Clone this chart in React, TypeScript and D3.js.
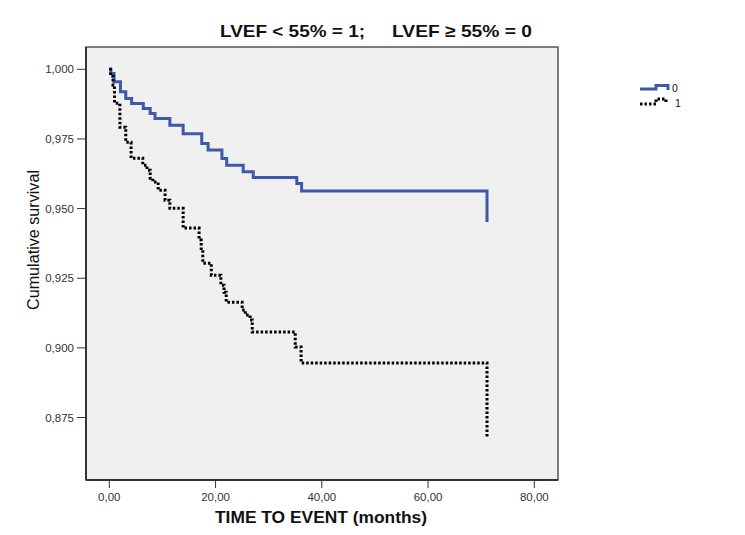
import React from "react";
import * as d3 from "d3";

const titleParts = ["LVEF < 55% = 1;", "LVEF \u2265 55% = 0"];
const xLabel = "TIME TO EVENT (months)";
const yLabel = "Cumulative survival";

const xTicks = [0, 20, 40, 60, 80];
const yTicks = [0.875, 0.9, 0.925, 0.95, 0.975, 1.0];

const group0Times = [0, 0.3, 0.9, 2.1, 3.1, 4.2, 6.4, 7.7, 8.6, 11.4, 13.9, 17.4, 18.6, 21.2, 22.1, 25.2, 27.1, 35.3, 36.2, 71.1];
const group0Surv = [1.0, 0.9985, 0.9955, 0.9919, 0.9895, 0.9877, 0.9859, 0.9841, 0.9823, 0.9799, 0.9769, 0.9734, 0.971, 0.968, 0.9656, 0.9632, 0.9612, 0.959, 0.9563, 0.9452];

const group1Times = [0, 0.23, 0.7, 0.98, 2.0, 3.1, 4.1, 6.3, 7.1, 7.7, 8.2, 9.2, 10.5, 11.4, 13.9, 16.9, 17.3, 17.6, 19.2, 21.0, 21.6, 22.0, 25.0, 25.6, 26.5, 26.9, 35.0, 36.1, 71.1];
const group1Surv = [1.0, 0.9975, 0.9943, 0.9878, 0.9792, 0.9738, 0.9681, 0.9656, 0.9638, 0.9609, 0.9595, 0.9566, 0.953, 0.9501, 0.943, 0.9387, 0.9351, 0.9304, 0.9261, 0.9225, 0.92, 0.9164, 0.9136, 0.9118, 0.91, 0.9057, 0.9003, 0.8946, 0.8676];

const legendLabels = ["0", "1"];

export default function App() {
  const W = 745, H = 535;
  const frame = { left: 86, right: 558, top: 47, bottom: 480 };
  const x = d3.scaleLinear().domain([0, 80]).range([109.3, 534.3]);
  const y = d3.scaleLinear().domain([0.875, 1.0]).range([417.5, 69.3]);
  const fmtY = (v: number) => d3.format(".3f")(v).replace(".", ",");
  const fmtX = (v: number) => d3.format(".2f")(v).replace(".", ",");

  const line = d3
    .line<[number, number]>()
    .x((d) => x(d[0]))
    .y((d) => y(d[1]))
    .curve(d3.curveStepAfter);

  const p0 = line(group0Times.map((t, i) => [t, group0Surv[i]] as [number, number])) || "";
  const p1 = line(group1Times.map((t, i) => [t, group1Surv[i]] as [number, number])) || "";

  const blue = "#3E58AC";
  const font = "Arial, 'Liberation Sans', sans-serif";

  return (
    <svg
      width={W}
      height={H}
      style={{ position: "absolute", left: 0, top: 0, background: "#fff" }}
      fontFamily={font}
    >
      <rect x={0} y={0} width={W} height={H} fill="#fff" />
      <text x={220} y={37} fontSize={17} fontWeight="bold" fill="#111" textLength={145} lengthAdjust="spacingAndGlyphs">
        {titleParts[0]}
      </text>
      <text x={392} y={37} fontSize={17} fontWeight="bold" fill="#111" textLength={140} lengthAdjust="spacingAndGlyphs">
        {titleParts[1]}
      </text>
      <rect
        x={frame.left}
        y={frame.top}
        width={frame.right - frame.left}
        height={frame.bottom - frame.top}
        fill="#F0F0F0"
        stroke="#555"
        strokeWidth={1.5}
      />
      <line x1={frame.left} x2={frame.left} y1={frame.top} y2={frame.bottom} stroke="#333" strokeWidth={2} />
      <line x1={frame.left} x2={frame.right} y1={frame.bottom} y2={frame.bottom} stroke="#333" strokeWidth={2} />
      {yTicks.map((v) => (
        <g key={"y" + v}>
          <line x1={77} x2={frame.left} y1={y(v)} y2={y(v)} stroke="#333" strokeWidth={1} />
          <text x={74} y={y(v) + 4} textAnchor="end" fontSize={11.5} fill="#333">
            {fmtY(v)}
          </text>
        </g>
      ))}
      {xTicks.map((v) => (
        <g key={"x" + v}>
          <line x1={x(v)} x2={x(v)} y1={frame.bottom} y2={frame.bottom + 8} stroke="#333" strokeWidth={1} />
          <text x={x(v)} y={501} textAnchor="middle" fontSize={11.5} fill="#333">
            {fmtX(v)}
          </text>
        </g>
      ))}
      <text x={215} y={523} fontSize={16} fontWeight="bold" fill="#111" textLength={212} lengthAdjust="spacingAndGlyphs">
        {xLabel}
      </text>
      <text
        transform={`translate(39,240) rotate(-90)`}
        x={-70}
        fontSize={16}
        fill="#111"
        textLength={140}
        lengthAdjust="spacingAndGlyphs"
      >
        {yLabel}
      </text>
      <path d={p0} fill="none" stroke={blue} strokeWidth={3} />
      <path d={p1} fill="none" stroke="#000" strokeWidth={3} strokeDasharray="2.5 2" />
      <g>
        <path d="M640,89 H656 V85.5 H668 V90" fill="none" stroke={blue} strokeWidth={3} />
        <text x={672} y={92} fontSize={10.5} fill="#111">{legendLabels[0]}</text>
        <path d="M640,104 H656 V99 H666 V103" fill="none" stroke="#000" strokeWidth={3} strokeDasharray="2.5 2" />
        <text x={675} y={107} fontSize={10.5} fill="#111">{legendLabels[1]}</text>
      </g>
    </svg>
  );
}
